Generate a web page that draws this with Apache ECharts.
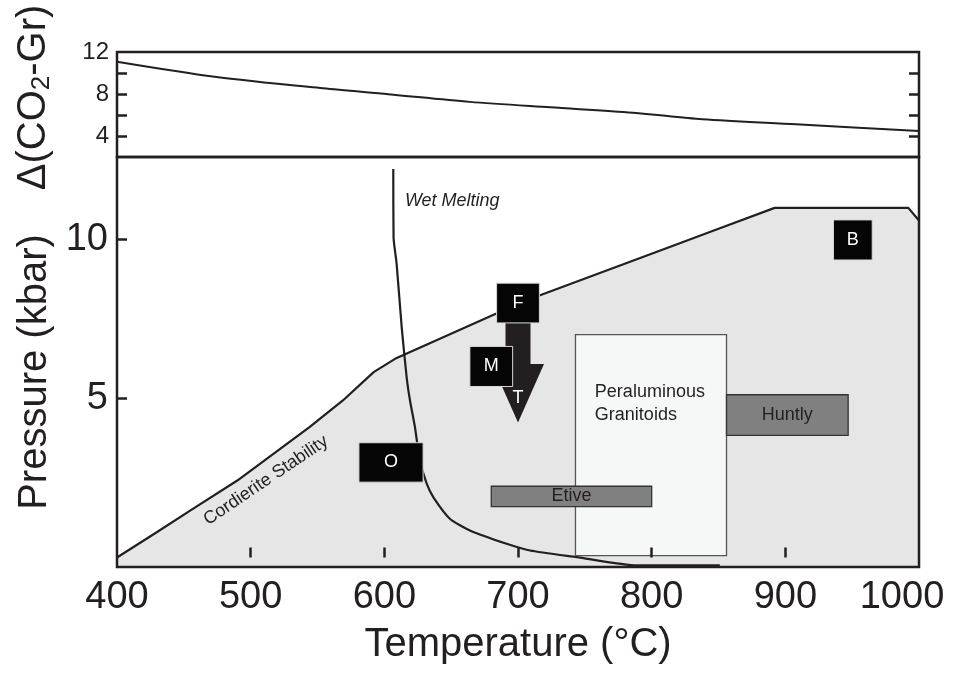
<!DOCTYPE html>
<html><head><meta charset="utf-8">
<script src="https://cdn.jsdelivr.net/npm/echarts@6/dist/echarts.min.js"></script>
<style>html,body{margin:0;padding:0;background:#fff}#c{width:963px;height:675px}</style>
</head><body><div id="c"></div>
<script>
// ---------------- data ----------------
const tempTicks = [400, 500, 600, 700, 800, 900, 1000];
const deltaTickLabels = [4, 8, 12];
const deltaTicks = [4, 6, 8, 10];
const pressureTickLabels = [5, 10];

// Δ(CO2-Gr) curve (top panel)
const deltaT = [400, 473, 554, 603, 664, 724, 786, 838, 908, 1000];
const deltaV = [11.08, 9.65, 8.54, 7.98, 7.25, 6.73, 6.22, 5.59, 5.11, 4.47];

// Cordierite stability boundary
const cordT = [400, 430, 455, 490, 544, 569, 592, 608, 683, 716, 816, 846, 892, 992, 1000];
const cordP = [0, 0.8, 1.48, 2.42, 4.1, 4.94, 5.83, 6.25, 7.66, 8.24, 9.81, 10.28, 11.0, 11.0, 10.6];

// Wet melting curve
const wetT = [606.7, 606.9, 609.2, 613, 616.7, 619.2, 622.9, 626.6, 631.7, 636.6, 649, 664, 691.5, 709, 744, 789, 851];
const wetP = [12.22, 10.07, 9.24, 7.24, 5.67, 4.94, 4.1, 3.05, 2.32, 1.9, 1.22, 0.85, 0.43, 0.22, 0.01, -0.25, -0.25];

// Range boxes: [Tmin, Tmax, Pmin, Pmax]
const rangeNames = ['Peraluminous\nGranitoids', 'Huntly', 'Etive'];
const rangeTmin = [743, 856, 680];
const rangeTmax = [856, 947, 800];
const rangePmin = [0.06, 3.84, 1.6];
const rangePmax = [7.01, 5.12, 2.24];

// Sample boxes
const sampleNames = ['F', 'M', 'O', 'B'];
const sampleTmin = [684, 664, 581, 936];
const sampleTmax = [716, 696, 629, 965];
const samplePmin = [7.38, 5.38, 2.37, 9.36];
const samplePmax = [8.63, 6.64, 3.61, 10.62];

// Arrow F -> T : [T, Pstart, PheadBase, Ptip]
const arrowName = 'T';
const arrowT = 700;
const arrowPstart = 7.38;
const arrowPhead = 6.09;
const arrowPtip = 4.25;
const arrowLabelP = 5.03;

// Field labels
const fieldNames = ['Wet Melting', 'Cordierite Stability'];
const fieldT = [615.4, 511.4];
const fieldP = [11.23, 2.42];

// ---------------- chart ----------------
const INK = '#231f20';
const FONT = "'Liberation Sans', Arial, Helvetica, sans-serif";
const chart = echarts.init(document.getElementById('c'), null, {renderer: 'canvas'});

const gridLeft = 117, gridRight = 44;
const rangeFill = ['#f6f7f7', '#808080', '#808080'];
const rangeStroke = ['#555555', '#333333', '#333333'];
const innerTempTicks = tempTicks.slice(1, -1);

const option = {
  animation: false,
  backgroundColor: '#ffffff',
  textStyle: {fontFamily: FONT, color: INK},
  grid: [
    {left: gridLeft, right: gridRight, top: 52, height: 105, show: true, borderColor: INK, borderWidth: 2.5,
     backgroundColor: 'transparent', z: 10, containLabel: false, outerBoundsMode: 'none'},
    {left: gridLeft, right: gridRight, top: 157, height: 410, show: true, borderColor: INK, borderWidth: 2.5,
     backgroundColor: 'transparent', z: 10, containLabel: false, outerBoundsMode: 'none'}
  ],
  xAxis: [
    {type: 'value', gridIndex: 0, min: 400, max: 1000, interval: 100,
     axisLine: {show: false}, axisTick: {show: false}, axisLabel: {show: false}, splitLine: {show: false}},
    {type: 'value', gridIndex: 1, min: 400, max: 1000, interval: 100, z: 10,
     axisLine: {show: false},
     axisTick: {show: true, inside: true, length: 10, customValues: innerTempTicks, lineStyle: {color: INK, width: 2.5}},
     axisLabel: {show: true, fontSize: 38, color: INK, margin: 12, fontFamily: FONT, customValues: tempTicks,
       formatter: function (v) { return v === 1000 ? '{m|' + v + '}' : String(v); },
       rich: {m: {fontSize: 38, color: INK, fontFamily: FONT, padding: [0, 34, 0, 0]}}},
     splitLine: {show: false},
     name: 'Temperature (°C)', nameLocation: 'middle', nameGap: 58, nameMoveOverlap: false,
     nameTextStyle: {fontSize: 40, color: INK, fontFamily: FONT}}
  ],
  yAxis: [
    {type: 'value', gridIndex: 0, min: 2, max: 12, interval: 2, z: 10,
     axisLine: {show: false},
     axisTick: {show: true, inside: true, length: 10, customValues: deltaTicks, lineStyle: {color: INK, width: 2.5}},
     axisLabel: {show: true, fontSize: 24, color: INK, margin: 8, fontFamily: FONT, customValues: deltaTickLabels},
     splitLine: {show: false},
     name: 'Δ(CO{s|2}-Gr)', nameLocation: 'middle', nameGap: 62, nameMoveOverlap: false,
     nameTextStyle: {fontSize: 40, color: INK, fontFamily: FONT, padding: [0, 0, 0, 14],
       rich: {s: {fontSize: 26, color: INK, fontFamily: FONT, verticalAlign: 'bottom', padding: [16, 0, 0, 0]}}}},
    {type: 'value', gridIndex: 0, min: 2, max: 12, interval: 2, position: 'right', z: 10,
     axisLine: {show: false},
     axisTick: {show: true, inside: true, length: 10, customValues: deltaTicks, lineStyle: {color: INK, width: 2.5}},
     axisLabel: {show: false}, splitLine: {show: false}},
    {type: 'value', gridIndex: 1, min: -0.3, max: 12.6, z: 10,
     axisLine: {show: false},
     axisTick: {show: true, inside: true, length: 10, customValues: pressureTickLabels, lineStyle: {color: INK, width: 2.5}},
     axisLabel: {show: true, fontSize: 38, color: INK, margin: 9, fontFamily: FONT, customValues: pressureTickLabels},
     splitLine: {show: false},
     name: 'Pressure (kbar)', nameLocation: 'middle', nameGap: 62, nameMoveOverlap: false,
     nameTextStyle: {fontSize: 40, color: INK, fontFamily: FONT, padding: [0, 20, 0, 0]}}
  ],
  series: [
    {type: 'line', xAxisIndex: 0, yAxisIndex: 0, z: 3, symbol: 'none', smooth: 0.3,
     lineStyle: {color: INK, width: 2},
     data: deltaT.map((t, i) => [t, deltaV[i]])},
    {type: 'line', xAxisIndex: 1, yAxisIndex: 2, z: 2, symbol: 'none', smooth: false,
     lineStyle: {color: INK, width: 2.2},
     areaStyle: {color: '#e6e6e6', opacity: 1, origin: 'start'},
     data: cordT.map((t, i) => [t, cordP[i]])},
    {type: 'line', xAxisIndex: 1, yAxisIndex: 2, z: 3, symbol: 'none', smooth: 0.2,
     lineStyle: {color: INK, width: 2.2},
     data: wetT.map((t, i) => [t, wetP[i]])},
    {type: 'custom', xAxisIndex: 1, yAxisIndex: 2, z: 4,
     data: rangeNames.map((n, i) => [rangeTmin[i], rangeTmax[i], rangePmin[i], rangePmax[i]]),
     renderItem: function (params, api) {
       const i = params.dataIndex;
       const a = api.coord([api.value(0), api.value(3)]);
       const b = api.coord([api.value(1), api.value(2)]);
       const children = [{type: 'rect', shape: {x: a[0], y: a[1], width: b[0] - a[0], height: b[1] - a[1]},
         style: {fill: rangeFill[i], stroke: rangeStroke[i], lineWidth: 1.3}}];
       if (i === 0) {
         const t = api.coord([757.5, 4.84]);
         children.push({type: 'text', x: t[0], y: t[1], style: {text: rangeNames[i], fill: '#231f20',
           font: '18px ' + FONT, align: 'left', verticalAlign: 'middle', lineHeight: 23}});
       } else {
         children.push({type: 'text', x: (a[0] + b[0]) / 2, y: (a[1] + b[1]) / 2, style: {text: rangeNames[i],
           fill: '#231f20', font: '18px ' + FONT, align: 'center', verticalAlign: 'middle'}});
       }
       return {type: 'group', children: children};
     }},
    {type: 'custom', xAxisIndex: 1, yAxisIndex: 2, z: 5,
     data: [[arrowT, arrowPstart, arrowPhead, arrowPtip, arrowLabelP]],
     renderItem: function (params, api) {
       const s = api.coord([api.value(0), api.value(1)]);
       const h = api.coord([api.value(0), api.value(2)]);
       const tp = api.coord([api.value(0), api.value(3)]);
       const lb = api.coord([api.value(0), api.value(4)]);
       const sw = 12.5, hw = 26;
       return {type: 'group', children: [
         {type: 'polygon', shape: {points: [[s[0] - sw, s[1]], [s[0] + sw, s[1]], [s[0] + sw, h[1]], [s[0] + hw, h[1]],
           [tp[0], tp[1]], [s[0] - hw, h[1]], [s[0] - sw, h[1]]]}, style: {fill: '#231f20'}},
         {type: 'text', x: lb[0], y: lb[1], style: {text: arrowName, fill: '#ffffff', font: '18px ' + FONT,
           align: 'center', verticalAlign: 'middle'}}
       ]};
     }},
    {type: 'custom', xAxisIndex: 1, yAxisIndex: 2, z: 6,
     data: sampleNames.map((n, i) => [sampleTmin[i], sampleTmax[i], samplePmin[i], samplePmax[i]]),
     renderItem: function (params, api) {
       const i = params.dataIndex;
       const a = api.coord([api.value(0), api.value(3)]);
       const b = api.coord([api.value(1), api.value(2)]);
       return {type: 'group', children: [
         {type: 'rect', shape: {x: a[0], y: a[1], width: b[0] - a[0], height: b[1] - a[1]},
          style: {fill: '#050505', stroke: '#d8d8d8', lineWidth: 1}},
         {type: 'text', x: (a[0] + b[0]) / 2, y: (a[1] + b[1]) / 2, style: {text: sampleNames[i], fill: '#ffffff',
           font: '18px ' + FONT, align: 'center', verticalAlign: 'middle'}}
       ]};
     }},
    {type: 'custom', xAxisIndex: 1, yAxisIndex: 2, z: 7,
     data: fieldNames.map((n, i) => [fieldT[i], fieldP[i]]),
     renderItem: function (params, api) {
       const i = params.dataIndex;
       const p = api.coord([api.value(0), api.value(1)]);
       if (i === 0) {
         return {type: 'text', x: p[0], y: p[1], style: {text: fieldNames[i], fill: '#231f20',
           font: 'italic 18px ' + FONT, align: 'left', verticalAlign: 'middle'}};
       }
       return {type: 'text', x: p[0], y: p[1], rotation: 34 * Math.PI / 180, style: {text: fieldNames[i],
         fill: '#231f20', font: '18px ' + FONT, align: 'center', verticalAlign: 'middle'}};
     }}
  ]
};
chart.setOption(option);
</script>
</body></html>
